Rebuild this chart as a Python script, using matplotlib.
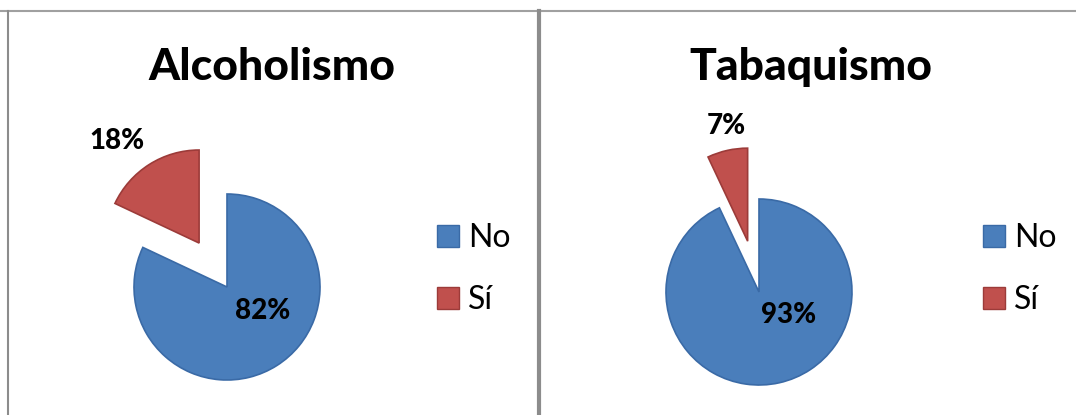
import matplotlib
matplotlib.use('Agg')
import matplotlib.pyplot as plt
from matplotlib.lines import Line2D

# data
categories = ['No', 'Sí']
titles = ['Alcoholismo', 'Tabaquismo']
alcohol = [82, 18]
tabaco = [93, 7]
colors = ['#4a7ebb', '#c0504d']
edge_colors = ['#3a6aa6', '#9c3b39']

plt.rcParams['font.family'] = ['Lato', 'DejaVu Sans']

W, H = 1076, 415
fig = plt.figure(figsize=(W / 100, H / 100), dpi=100)
ax = fig.add_axes([0, 0, 1, 1])
ax.set_xlim(0, W)
ax.set_ylim(0, H)
ax.axis('off')

# panel borders
ax.add_line(Line2D([0, W], [H - 11.5, H - 11.5], color='#a0a0a0', lw=1.5))
ax.add_line(Line2D([8, 8], [0, H - 11.5], color='#8c8c8c', lw=1.5))
ax.add_line(Line2D([539, 539], [0, H - 11.5], color='#8c8c8c', lw=3))

R = 93
panels = [
    # values, centre (px, top-down y), title centre x, label offsets (in radii), legend x
    (alcohol, (227, 287), 272, [(0.38, -0.26), (-1.18, 1.57)], 437),
    (tabaco, (759, 292), 811, [(0.32, -0.25), (-0.35, 1.78)], 983),
]

for (vals, (cx, cy), tx, offs, lx), title in zip(panels, titles):
    cyu = H - cy
    # pie() explodes in data units, so scale by the radius
    wedges, _ = ax.pie(vals, colors=colors, startangle=90, counterclock=False,
                       explode=[0, 0.56 * R], radius=R, center=(cx, cyu),
                       wedgeprops=dict(linewidth=1.2))
    for w, ec in zip(wedges, edge_colors):
        w.set_edgecolor(ec)
    for v, (dx, dy) in zip(vals, offs):
        ax.text(cx + dx * R, cyu + dy * R, f'{v}%', ha='center', va='center',
                fontsize=20, fontweight='black', color='black')
    ax.text(tx, H - 67, title, ha='center', va='center', fontsize=32,
            fontweight='black', color='black')
    handles = [plt.Rectangle((0, 0), 1, 1, facecolor=c, edgecolor=e, lw=1)
               for c, e in zip(colors, edge_colors)]
    fig.legend(handles, categories, loc='upper left',
               bbox_to_anchor=(lx / W, 1 - 223 / H), frameon=False,
               fontsize=23, borderpad=0, borderaxespad=0,
               handlelength=0.68, handleheight=0.68, handletextpad=0.3,
               labelspacing=1.0)

ax.set_xlim(0, W)
ax.set_ylim(0, H)
ax.set_aspect('auto')
fig.savefig('out.png', dpi=100)
